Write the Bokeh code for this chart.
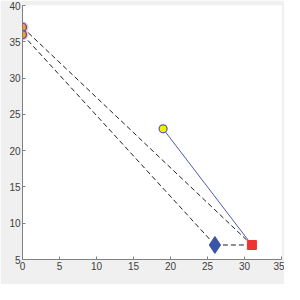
from bokeh.plotting import figure
from bokeh.models import FixedTicker, Range1d, Label
from bokeh.embed import file_html
from bokeh.resources import INLINE

# data
start_x = [0, 0]
start_y = [37, 36]
square_x = [31]
square_y = [7]
diamond_x = [26]
diamond_y = [7]
yellow_x = [19]
yellow_y = [23]
x_ticks = [0, 5, 10, 15, 20, 25, 30, 35]
y_ticks = [5, 10, 15, 20, 25, 30, 35, 40]

p = figure(width=284, height=284, output_backend="svg", toolbar_location=None,
           x_range=Range1d(0, 35), y_range=Range1d(5, 40),
           min_border_left=22, min_border_right=3, min_border_top=5, min_border_bottom=25)
p.border_fill_color = "#f0f0f0"
p.background_fill_color = "white"
p.outline_line_color = None
p.grid.visible = False

for ax in (p.xaxis, p.yaxis):
    ax.axis_line_color = "#808080"
    ax.major_tick_line_color = "#808080"
    ax.major_tick_in = 3
    ax.major_tick_out = 0
    ax.minor_tick_line_color = None
    ax.major_label_text_font = "Liberation Sans"
    ax.major_label_text_font_size = "10px"
    ax.major_label_text_color = "#404040"
    ax.major_label_standoff = 2
p.xaxis.ticker = FixedTicker(ticks=x_ticks)
p.yaxis.ticker = FixedTicker(ticks=y_ticks)

p.add_layout(Label(x=130, y=-19, x_units="screen", y_units="screen", text="X",
                   text_font="Liberation Sans", text_font_size="11px",
                   text_color="#404040", text_align="center", text_baseline="middle"))
p.add_layout(Label(x=-15, y=127, x_units="screen", y_units="screen", text="Y",
                   angle=1.5708, text_font="Liberation Sans", text_font_size="11px",
                   text_color="#404040", text_align="center", text_baseline="middle"))

# dashed lines
p.line([start_x[0], square_x[0]], [start_y[0], square_y[0]], line_color="#202020",
       line_dash="5 3", line_width=1)
p.line([start_x[1], diamond_x[0]], [start_y[1], diamond_y[0]], line_color="#202020",
       line_dash="5 3", line_width=1)
p.line([diamond_x[0], square_x[0]], [diamond_y[0], square_y[0]], line_color="#202020",
       line_dash="5 3", line_width=1)
# solid blue line
p.line([yellow_x[0], square_x[0]], [yellow_y[0], square_y[0]], line_color="#4a5bb0",
       line_width=1)

# markers
p.scatter(start_x, start_y, marker="circle", size=12, fill_color="#ff9999",
          fill_alpha=0.6, line_color=None)
p.scatter(start_x, start_y, marker="circle", size=8, fill_color="#f0a020",
          line_color="#3b4fc0", line_width=1.2)
p.scatter(yellow_x, yellow_y, marker="circle", size=8, fill_color="#f5f000",
          line_color="#5060b0", line_width=1.2)
p.scatter(diamond_x, diamond_y, marker="diamond", size=17, fill_color="#3a55a8",
          line_color="#3a55a8")
p.scatter(square_x, square_y, marker="square", size=9, fill_color="#ee3333",
          line_color="#ee3333")

open("out.html", "w").write(file_html(p, INLINE))
